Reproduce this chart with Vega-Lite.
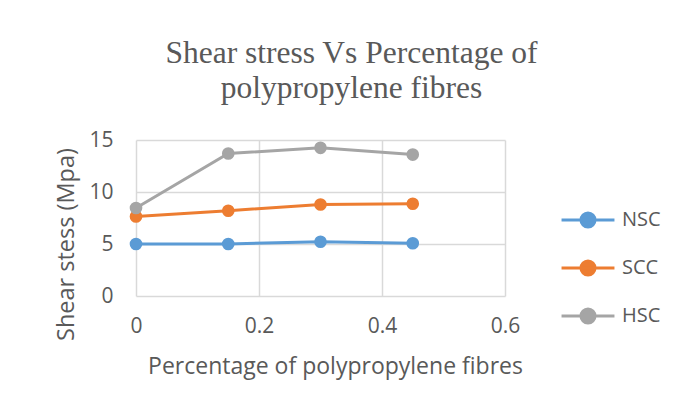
{
  "$schema": "https://vega.github.io/schema/vega-lite/v6.json",
  "width": 369,
  "height": 156,
  "autosize": {"type": "none"},
  "padding": {"left": 136, "top": 140, "right": 183, "bottom": 111},
  "background": "white",
  "title": {
    "text": ["Shear stress Vs Percentage of", "polypropylene fibres"],
    "font": "Liberation Serif",
    "fontSize": 31.5,
    "fontWeight": "normal",
    "color": "#595959",
    "lineHeight": 35,
    "anchor": "middle",
    "dx": 31,
    "offset": 25
  },
  "data": {
    "values": [
      {"x": 0, "y": 5.0, "series": "NSC"},
      {"x": 0.15, "y": 5.0, "series": "NSC"},
      {"x": 0.3, "y": 5.22, "series": "NSC"},
      {"x": 0.45, "y": 5.07, "series": "NSC"},
      {"x": 0, "y": 7.65, "series": "SCC"},
      {"x": 0.15, "y": 8.2, "series": "SCC"},
      {"x": 0.3, "y": 8.8, "series": "SCC"},
      {"x": 0.45, "y": 8.87, "series": "SCC"},
      {"x": 0, "y": 8.46, "series": "HSC"},
      {"x": 0.15, "y": 13.7, "series": "HSC"},
      {"x": 0.3, "y": 14.25, "series": "HSC"},
      {"x": 0.45, "y": 13.6, "series": "HSC"}
    ]
  },
  "encoding": {
    "x": {
      "field": "x", "type": "quantitative",
      "scale": {"domain": [0, 0.6], "nice": false, "zero": true},
      "axis": {"values": [0, 0.2, 0.4, 0.6], "format": ".1~f", "labelFlush": false, "title": "Percentage of polypropylene fibres", "labelPadding": 19, "titlePadding": 19, "titleX": 199, "titleFontSize": 23}
    },
    "y": {
      "field": "y", "type": "quantitative",
      "scale": {"domain": [0, 15], "nice": false},
      "axis": {"values": [0, 5, 10, 15], "title": "Shear stess (Mpa)", "labelPadding": 23, "titlePadding": 10, "titleY": 104, "titleFontSize": 23.5}
    },
    "color": {
      "field": "series", "type": "nominal",
      "scale": {"domain": ["NSC", "SCC", "HSC"], "range": ["#5B9BD5", "#ED7D31", "#A5A5A5"]},
      "legend": {
        "title": null,
        "orient": "none",
        "direction": "vertical",
        "columns": 1,
        "legendX": 422,
        "legendY": 50,
        "padding": 0,
        "symbolType": "M-0.94,0H0.94M-0.25,0A0.25,0.25 0 1,0 0.25,0A0.25,0.25 0 1,0 -0.25,0Z",
        "symbolSize": 3170,
        "symbolStrokeWidth": 3,
        "labelFont": "Open Sans",
        "labelFontSize": 20,
        "labelColor": "#595959",
        "labelOffset": 4,
        "rowPadding": 4
      }
    }
  },
  "layer": [
    {"mark": {"type": "line", "strokeWidth": 3}},
    {"mark": {"type": "point", "filled": true, "size": 160, "opacity": 1}}
  ],
  "config": {
    "view": {"stroke": null},
    "axis": {
      "grid": true,
      "gridColor": "#D9D9D9",
      "gridWidth": 1.5,
      "domain": false,
      "ticks": false,
      "labelFont": "Open Sans",
      "labelFontSize": 21,
      "labelColor": "#595959",
      "titleFont": "Open Sans",
      "titleFontSize": 22,
      "titleFontWeight": "normal",
      "titleColor": "#595959"
    }
  }
}
